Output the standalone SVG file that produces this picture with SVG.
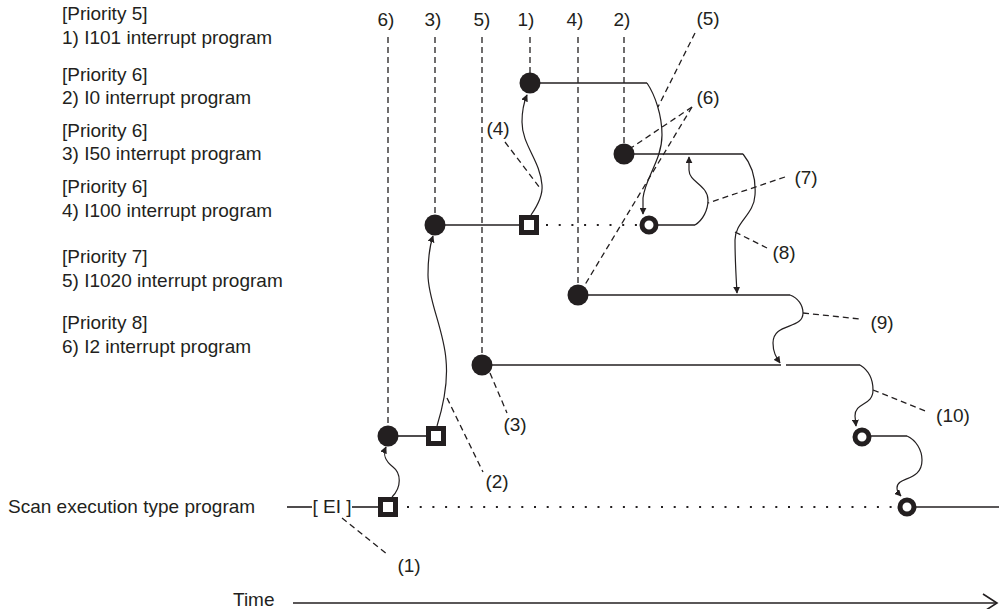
<svg xmlns="http://www.w3.org/2000/svg" width="999" height="609" viewBox="0 0 999 609">
<style>
text{font-family:"Liberation Sans",Arial,sans-serif;font-size:19px;fill:#231f20}
.c{text-anchor:middle}
.ln{stroke:#231f20;stroke-width:1.6;fill:none}
.cv{stroke:#231f20;stroke-width:1.2;fill:none;marker-end:url(#ah)}
.ds{stroke:#231f20;stroke-width:1.3;fill:none;stroke-dasharray:6 4}
.dt{stroke:#231f20;stroke-width:2.2;fill:none;stroke-dasharray:2 10.7}
.dot{fill:#231f20}
.sq{fill:#fff;stroke:#231f20;stroke-width:5}
.ho{fill:#fff;stroke:#231f20;stroke-width:5}
</style>
<defs>
<marker id="ah" viewBox="0 0 10 10" refX="9" refY="5" markerWidth="7" markerHeight="7" markerUnits="userSpaceOnUse" orient="auto">
<path d="M0,0 L10,5 L0,10 Z" fill="#231f20"/>
</marker>
</defs>
<rect width="999" height="609" fill="#fff"/>
<g id="legend">
<text x="62" y="20">[Priority 5]</text>
<text x="62" y="44">1) I101 interrupt program</text>
<text x="62" y="81">[Priority 6]</text>
<text x="62" y="104">2) I0 interrupt program</text>
<text x="62" y="137">[Priority 6]</text>
<text x="62" y="160">3) I50 interrupt program</text>
<text x="62" y="193">[Priority 6]</text>
<text x="62" y="217">4) I100 interrupt program</text>
<text x="62" y="263">[Priority 7]</text>
<text x="62" y="287">5) I1020 interrupt program</text>
<text x="62" y="329">[Priority 8]</text>
<text x="62" y="353">6) I2 interrupt program</text>
<text x="8" y="513">Scan execution type program</text>
<text x="233" y="606">Time</text>
</g>
<g id="column-labels">
<text class="c" x="386" y="26">6)</text>
<text class="c" x="433" y="26">3)</text>
<text class="c" x="482" y="26">5)</text>
<text class="c" x="526" y="26">1)</text>
<text class="c" x="575" y="26">4)</text>
<text class="c" x="622" y="26">2)</text>
</g>
<g id="connectors">
<line class="ds" x1="388" y1="37" x2="388" y2="428"/>
<line class="ds" x1="435" y1="37" x2="435" y2="216"/>
<line class="ds" x1="482" y1="37" x2="482" y2="356"/>
<line class="ds" x1="530" y1="37" x2="530" y2="74"/>
<line class="ds" x1="578" y1="37" x2="578" y2="286"/>
<line class="ds" x1="624" y1="37" x2="624" y2="145"/>
<line class="ln" x1="287" y1="507" x2="312" y2="507"/>
<line class="ln" x1="352" y1="507" x2="378" y2="507"/>
<line class="ln" x1="914" y1="507" x2="999" y2="507"/>
<line class="ln" x1="540" y1="83" x2="647" y2="83"/>
<line class="ln" x1="634" y1="154" x2="743" y2="154"/>
<line class="ln" x1="445" y1="225" x2="519" y2="225"/>
<line class="ln" x1="656" y1="225" x2="695" y2="225"/>
<line class="ln" x1="588" y1="295" x2="790" y2="295"/>
<line class="ln" x1="492" y1="365" x2="781" y2="365"/>
<line class="ln" x1="786" y1="365" x2="860" y2="365"/>
<line class="ln" x1="398" y1="436" x2="426" y2="436"/>
<line class="ln" x1="869" y1="436" x2="907" y2="436"/>
<line class="dt" x1="407" y1="507" x2="898" y2="507"/>
<line class="dt" x1="546" y1="225" x2="640" y2="225"/>
<path class="cv" d="M392,497 C402,487 401,473 393,467 C384,460 383,454 386,447"/>
<path class="cv" d="M437,426 C445,400 448,380 446,360 C444,330 428,300 428,275 C428,258 430,245 433,236"/>
<path class="cv" d="M531,215 C538,205 543,195 542,185 C540,160 522,145 522,122 C522,110 524,102 527,95"/>
<path class="cv" d="M647,83 C655,95 662,115 662,135 C662,160 645,178 643,198 L643,214"/>
<path class="cv" d="M695,225 C703,220 708,210 708,200 C708,185 689,182 689,170 L689,157"/>
<path class="cv" d="M743,154 C752,165 756,180 755,195 C754,215 735,222 735,240 C735,260 736,275 737,293"/>
<path class="cv" d="M790,295 C798,298 803,305 803,313 C803,330 773,322 773,343 C773,352 776,357 780,363"/>
<path class="cv" d="M860,365 C868,370 873,378 873,390 C873,406 855,402 855,416 L856,426"/>
<path class="cv" d="M907,436 C916,440 922,450 922,460 C922,482 897,476 897,488 C897,492 899,494 901,496"/>
<line class="ds" x1="342" y1="518" x2="388" y2="555"/>
<line class="ds" x1="447" y1="398" x2="483" y2="472"/>
<line class="ds" x1="490" y1="373" x2="507" y2="413"/>
<line class="ds" x1="505" y1="142" x2="540" y2="188"/>
<line class="ds" x1="695" y1="33" x2="658" y2="107"/>
<line class="ds" x1="692" y1="107" x2="631" y2="148"/>
<line class="ds" x1="692" y1="107" x2="583" y2="288"/>
<line class="ds" x1="785" y1="177" x2="708" y2="203"/>
<line class="ds" x1="735" y1="232" x2="767" y2="248"/>
<line class="ds" x1="803" y1="313" x2="860" y2="319"/>
<line class="ds" x1="873" y1="390" x2="928" y2="412"/>
<line class="ln" x1="293" y1="603" x2="996" y2="603"/>
<polyline class="ln" points="983,594 997,603 983,612"/>
</g>
<g id="ei"><text class="c" x="332" y="513" xml:space="preserve">[ EI ]</text></g>
<g id="start6"><circle class="dot" cx="388" cy="436" r="10.5"/></g>
<g id="start3"><circle class="dot" cx="435" cy="225" r="10.5"/></g>
<g id="start5"><circle class="dot" cx="482" cy="365" r="10.5"/></g>
<g id="start1"><circle class="dot" cx="530" cy="83" r="10.5"/></g>
<g id="start4"><circle class="dot" cx="578" cy="295" r="10.5"/></g>
<g id="start2"><circle class="dot" cx="624" cy="154" r="10.5"/></g>
<g id="int-scan"><rect class="sq" x="380.5" y="499.5" width="15" height="15"/></g>
<g id="int-3"><rect class="sq" x="521.5" y="217.5" width="15" height="15"/></g>
<g id="int-6"><rect class="sq" x="428.5" y="428.5" width="15" height="15"/></g>
<g id="resume-3"><circle class="ho" cx="649" cy="225" r="7"/></g>
<g id="resume-6"><circle class="ho" cx="862" cy="437" r="7"/></g>
<g id="resume-scan"><circle class="ho" cx="907" cy="507" r="7"/></g>
<g id="callouts">
<text class="c" x="409" y="572">(1)</text>
<text class="c" x="497" y="488">(2)</text>
<text class="c" x="515" y="431">(3)</text>
<text class="c" x="498" y="135">(4)</text>
<text class="c" x="708" y="25">(5)</text>
<text class="c" x="708" y="104">(6)</text>
<text class="c" x="806" y="184">(7)</text>
<text class="c" x="784" y="259">(8)</text>
<text class="c" x="882" y="329">(9)</text>
<text class="c" x="953" y="422">(10)</text>
</g>
</svg>
